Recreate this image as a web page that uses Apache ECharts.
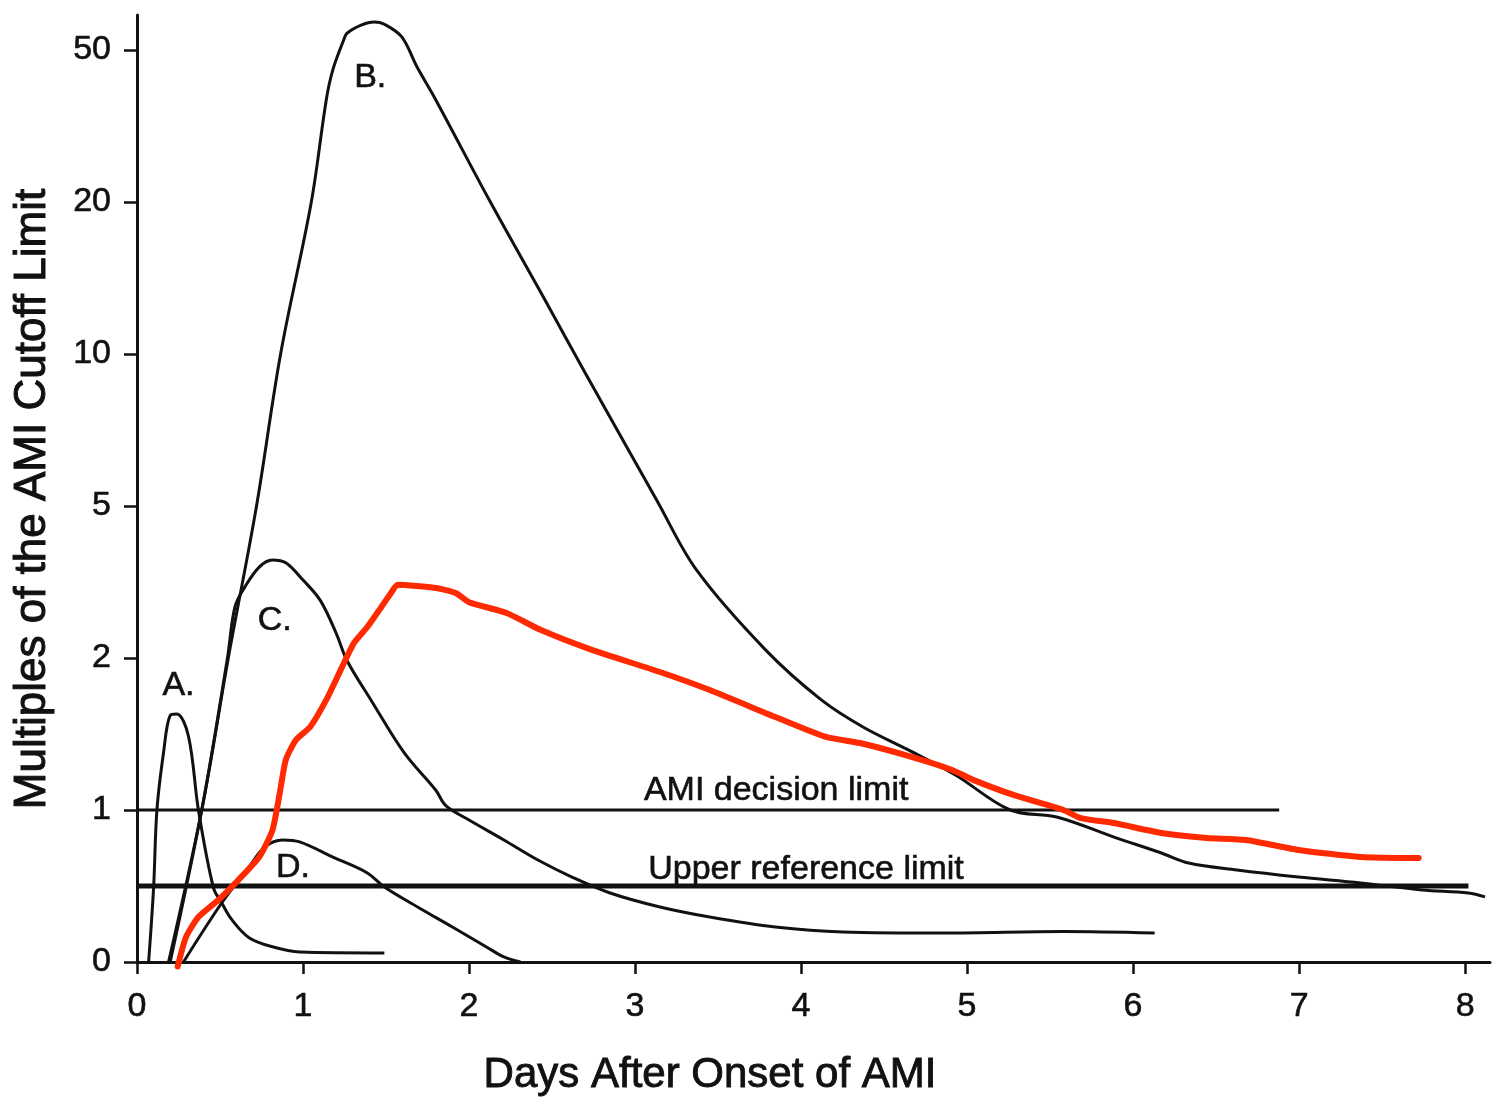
<!DOCTYPE html>
<html>
<head>
<meta charset="utf-8">
<title>Days After Onset of AMI</title>
<script src="https://cdn.jsdelivr.net/npm/echarts@6/dist/echarts.min.js"></script>
<style>
  html, body { margin: 0; padding: 0; background: #fff; }
  #chart { width: 1510px; height: 1113px; }
</style>
</head>
<body>
<div id="chart"></div>
<script>
// y axis is a stretched scale: the ticks are equally spaced
const yTicks = [0, 1, 2, 5, 10, 20, 50];
const xTicks = [0, 1, 2, 3, 4, 5, 6, 7, 8];

// curve A
const daysA = [0.07, 0.10, 0.12, 0.16, 0.20, 0.24, 0.31, 0.37, 0.46, 0.51, 0.57, 0.675, 0.816, 0.98, 1.49];
const valsA = [0, 0.49, 1.0, 1.30, 1.54, 1.55, 1.40, 1.0, 0.49, 0.39, 0.28, 0.16, 0.10, 0.066, 0.06];

// curve B
const daysB = [0.19, 0.39, 0.55, 0.72, 0.865, 1.05, 1.14, 1.18, 1.245, 1.265, 1.35, 1.43, 1.49, 1.595, 1.687, 1.80,
  2.123, 2.457, 2.70, 3.13, 3.37, 3.786, 4.124, 4.373, 4.646, 4.93, 5.26, 5.54, 5.885, 6.17, 6.335, 6.626, 6.995,
  7.37, 7.74, 8.02, 8.12];
const valsB = [0, 1, 2, 5, 10, 20, 37, 44.4, 53.1, 55.3, 58.1, 59.2, 58.4, 54.1, 45.1, 37.0,
  20.2, 12.8, 9.17, 5.14, 3.40, 2.10, 1.65, 1.46, 1.315, 1.173, 1.0, 0.954, 0.822, 0.717, 0.651, 0.605, 0.559,
  0.52, 0.474, 0.454, 0.428];

// curve C
const daysC = [0.20, 0.39, 0.545, 0.59, 0.65, 0.736, 0.816, 0.896, 1.0, 1.104, 1.2, 1.264, 1.41, 1.61, 1.80, 1.86,
  2.0, 2.21, 2.415, 2.62, 2.85, 3.15, 3.45, 3.845, 4.25, 4.87, 5.58, 6.13];
const valsC = [0, 1, 2, 2.72, 3.07, 3.46, 3.61, 3.55, 3.20, 2.83, 2.32, 1.98, 1.65, 1.297, 1.094, 1.02,
  0.934, 0.803, 0.671, 0.559, 0.454, 0.362, 0.296, 0.23, 0.197, 0.19, 0.2, 0.19];

// curve D
const daysD = [0.28, 0.51, 0.675, 0.77, 0.877, 0.98, 1.18, 1.387, 1.49, 1.69, 1.90, 2.105, 2.21, 2.31];
const valsD = [0, 0.388, 0.625, 0.757, 0.803, 0.79, 0.69, 0.586, 0.493, 0.362, 0.23, 0.099, 0.033, 0];

// red hand-drawn curve
const daysRed = [0.245, 0.295, 0.37, 0.49, 0.61, 0.736, 0.816, 0.86, 0.896, 0.957, 1.043, 1.14, 1.227, 1.307, 1.387,
  1.472, 1.53, 1.57, 1.80, 1.92, 2.0, 2.23, 2.43, 2.74, 3.15, 3.45, 3.845, 4.15, 4.355, 4.665, 4.91, 5.04, 5.28,
  5.58, 5.685, 5.885, 6.17, 6.445, 6.68, 6.995, 7.37, 7.72];
const valsRed = [-0.03, 0.164, 0.296, 0.408, 0.539, 0.691, 0.868, 1.081, 1.256, 1.376, 1.46, 1.652, 1.894, 2.19, 2.41,
  2.72, 2.96, 3.11, 3.05, 2.96, 2.80, 2.62, 2.37, 2.10, 1.876, 1.728, 1.528, 1.395, 1.357, 1.274, 1.2, 1.146, 1.071,
  1.0, 0.947, 0.914, 0.849, 0.816, 0.803, 0.737, 0.691, 0.684];

// reference lines
const decisionLimit = { value: 1, from: 0, to: 6.88 };
const upperRefLimit = { value: 0.5, from: 0, to: 8.02 };

// text annotations [day, value, text]
const notes = [
  [0.25, 1.76, 'A.'],
  [1.405, 42.4, 'B.'],
  [0.83, 2.51, 'C.'],
  [0.94, 0.62, 'D.'],
  [3.85, 1.09, 'AMI decision limit'],
  [4.03, 0.605, 'Upper reference limit']
];

// value -> position on the stretched y scale (linear to 1, log between ticks above)
function toIndex(v) {
  if (v <= 1) return v;
  for (let i = 1; i < yTicks.length - 1; i++) {
    if (v <= yTicks[i + 1]) return i + Math.log(v / yTicks[i]) / Math.log(yTicks[i + 1] / yTicks[i]);
  }
  const n = yTicks.length - 1;
  return n + Math.log(v / yTicks[n]) / Math.log(yTicks[n] / yTicks[n - 1]);
}

function pairs(days, vals) {
  return days.map((d, i) => [d, toIndex(vals[i])]);
}

const ink = '#111';
const font = '"Liberation Sans", Arial, Helvetica, sans-serif';
const heavy = { textBorderColor: ink, textBorderWidth: 0.6 };

function curve(name, days, vals) {
  return {
    name,
    type: 'line',
    data: pairs(days, vals),
    showSymbol: false,
    smooth: 0.35,
    clip: false,
    lineStyle: { color: ink, width: 3 },
    z: 2
  };
}

function hline(name, lim, width) {
  return {
    name,
    type: 'line',
    data: [[lim.from, toIndex(lim.value)], [lim.to, toIndex(lim.value)]],
    showSymbol: false,
    lineStyle: { color: ink, width },
    z: 2
  };
}

const chart = echarts.init(document.getElementById('chart'));

chart.setOption({
  animation: false,
  backgroundColor: '#fff',
  textStyle: { fontFamily: font, color: ink },
  grid: { left: 137, right: 20, top: 15, bottom: 151, outerBoundsMode: 'none' },
  xAxis: {
    type: 'value',
    min: 0,
    max: 8.15,
    interval: 1,
    splitLine: { show: false },
    axisLine: { lineStyle: { color: ink, width: 3 } },
    axisTick: { customValues: xTicks, length: 12, lineStyle: { color: ink, width: 2.5 } },
    axisLabel: Object.assign({ customValues: xTicks, margin: 28, fontSize: 34, color: ink, fontFamily: font }, heavy)
  },
  yAxis: {
    type: 'value',
    min: 0,
    max: 6.23,
    interval: 1,
    splitLine: { show: false },
    axisLine: { lineStyle: { color: ink, width: 3 } },
    axisTick: { customValues: [0, 1, 2, 3, 4, 5, 6], length: 13, lineStyle: { color: ink, width: 2.5 } },
    axisLabel: Object.assign({
      customValues: [0, 1, 2, 3, 4, 5, 6],
      margin: 26,
      fontSize: 34,
      color: ink,
      fontFamily: font,
      formatter: v => String(yTicks[Math.round(v)])
    }, heavy)
  },
  graphic: [
    {
      type: 'text',
      x: 710,
      y: 1075,
      style: {
        text: 'Days After Onset of AMI',
        font: '42px ' + font,
        fill: ink,
        stroke: ink,
        lineWidth: 0.9,
        textAlign: 'center',
        textVerticalAlign: 'middle'
      }
    },
    {
      type: 'text',
      x: 33,
      y: 499,
      rotation: Math.PI / 2,
      style: {
        text: 'Multiples of the AMI Cutoff Limit',
        font: '44px ' + font,
        fill: ink,
        stroke: ink,
        lineWidth: 1,
        textAlign: 'center',
        textVerticalAlign: 'middle'
      }
    }
  ],
  series: [
    hline('AMI decision limit', decisionLimit, 3),
    hline('Upper reference limit', upperRefLimit, 5),
    curve('A', daysA, valsA),
    curve('B', daysB, valsB),
    curve('C', daysC, valsC),
    curve('D', daysD, valsD),
    {
      name: 'notes',
      type: 'scatter',
      data: notes.map(n => [n[0], toIndex(n[1]), n[2]]),
      symbolSize: 1,
      itemStyle: { color: 'rgba(0,0,0,0)', opacity: 1 },
      label: Object.assign({
        show: true,
        position: 'inside',
        formatter: p => p.data[2],
        fontSize: 34,
        color: ink,
        fontFamily: font
      }, heavy),
      z: 3
    },
    {
      name: 'red',
      type: 'line',
      data: pairs(daysRed, valsRed),
      showSymbol: false,
      smooth: 0.2,
      clip: false,
      lineStyle: { color: '#ff2a00', width: 6, cap: 'round', join: 'round' },
      z: 5
    }
  ]
});

window.addEventListener('resize', chart.resize);
</script>
</body>
</html>
